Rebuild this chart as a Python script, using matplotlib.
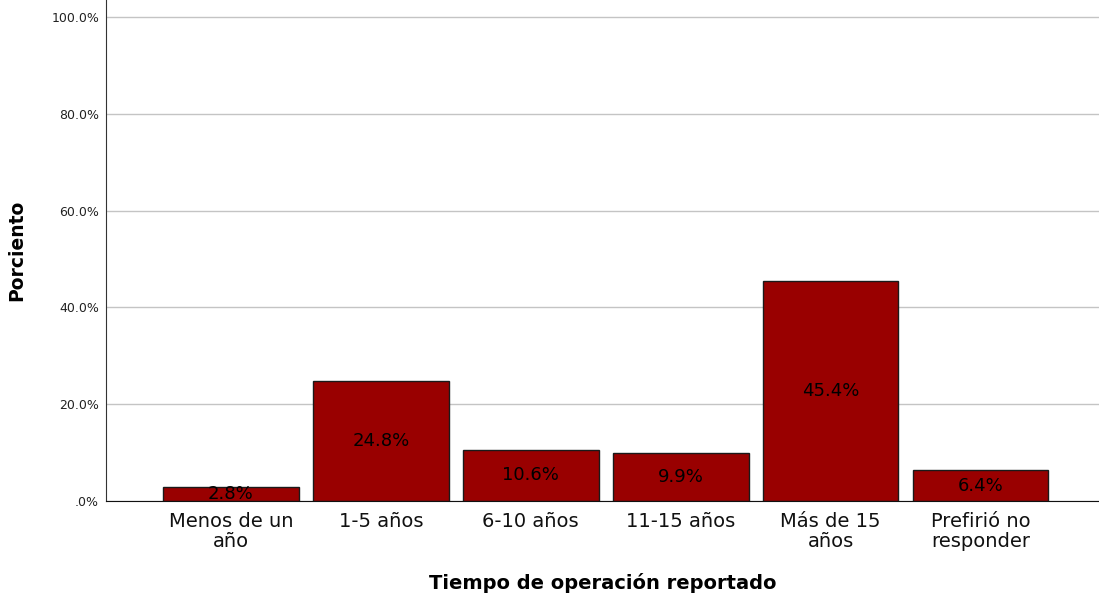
import matplotlib
matplotlib.use("Agg")
import matplotlib.pyplot as plt

categories = ["Menos de un\naño", "1-5 años", "6-10 años", "11-15 años", "Más de 15\naños", "Prefirió no\nresponder"]
values = [2.8, 24.8, 10.6, 9.9, 45.4, 6.4]
yticks = [0, 20, 40, 60, 80, 100]
ytick_labels = [".0%", "20.0%", "40.0%", "60.0%", "80.0%", "100.0%"]

fig = plt.figure(figsize=(10.99, 5.96), dpi=100)
ax = fig.add_axes([106/1099, 95/596, 1 - 106/1099, 1 - 95/596])

x = list(range(len(categories)))
ax.set_axisbelow(True)
ax.yaxis.grid(True, color="#c4c4c4", linewidth=1)
bars = ax.bar(x, values, width=0.905, color="#990000", edgecolor="#1a1a1a", linewidth=1)
for xi, v in zip(x, values):
    ax.text(xi, v / 2, f"{v:.1f}%", ha="center", va="center", fontsize=13, color="black")

ax.set_xlim(-0.833, 5.79)
ax.set_ylim(0, 103.5)
ax.set_yticks(yticks)
ax.set_yticklabels(ytick_labels, fontsize=9, color="#222222")
ax.set_xticks(x)
ax.set_xticklabels(categories, fontsize=14, color="#111111", linespacing=1.05)
ax.tick_params(axis="both", length=0)
ax.tick_params(axis="y", pad=5)
ax.tick_params(axis="x", pad=8)
for s in ["top", "right"]:
    ax.spines[s].set_visible(False)
ax.spines["left"].set_color("#333333")
ax.spines["bottom"].set_color("#111111")
ax.set_ylabel("Porciento", fontsize=13.5, fontweight="bold", labelpad=18)
ax.set_xlabel("Tiempo de operación reportado", fontsize=14, fontweight="bold", labelpad=16)

fig.savefig("out.png", dpi=100)
